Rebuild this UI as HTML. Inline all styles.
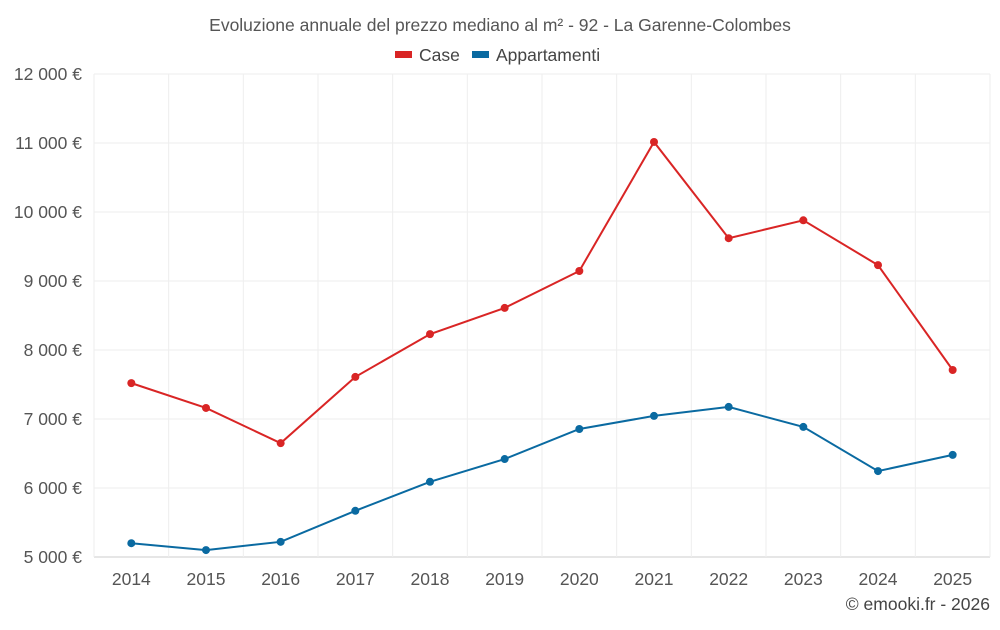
<!DOCTYPE html>
<html><head><meta charset="utf-8"><style>
body{margin:0;background:#fff;font-family:"Liberation Sans",sans-serif}
svg text{font-family:"Liberation Sans",sans-serif}
</style></head><body>
<svg id="chart" width="1000" height="625" viewBox="0 0 1000 625">
<text x="500" y="31" text-anchor="middle" font-size="17.5" fill="#555">Evoluzione annuale del prezzo mediano al m² - 92 - La Garenne-Colombes</text>
<g>
<g><rect x="395" y="51" width="17" height="7" fill="#d92525"/><text x="419" y="61" font-size="17.5" fill="#444">Case</text></g>
<g><rect x="472" y="51" width="17" height="7" fill="#0a6aa1"/><text x="496" y="61" font-size="17.5" fill="#444">Appartamenti</text></g>
</g>
<g id="grid"></g>
<g id="axes"></g>
<g id="series"></g>
<text x="990" y="610" text-anchor="end" font-size="17.5" fill="#444">© emooki.fr - 2026</text>
</svg>
<script>
const years=["2014","2015","2016","2017","2018","2019","2020","2021","2022","2023","2024","2025"];
const caseValues=[7520,7160,6650,7610,8230,8610,9145,11015,9620,9880,9230,7710];
const appValues=[5200,5100,5220,5670,6090,6420,6855,7045,7175,6885,6245,6480];
const yTicks=[5000,6000,7000,8000,9000,10000,11000,12000];
const yTickLabels=["5 000 €","6 000 €","7 000 €","8 000 €","9 000 €","10 000 €","11 000 €","12 000 €"];
const L=94,R=990,T=74,B=557,ymin=5000,ymax=12000;
const band=(R-L)/years.length;
const x=i=>L+band*(i+0.5);
const y=v=>B-(v-ymin)/(ymax-ymin)*(B-T);
const NS="http://www.w3.org/2000/svg";
function mk(tag,attrs,parent){const e=document.createElementNS(NS,tag);for(const k in attrs)e.setAttribute(k,attrs[k]);parent.appendChild(e);return e;}
const grid=document.getElementById('grid'),axes=document.getElementById('axes'),series=document.getElementById('series');
yTicks.forEach((t,i)=>{
 const ln=mk('line',{x1:L,x2:R,y1:y(t),y2:y(t),stroke:i==0?'#ccc':'#eee','stroke-width':1},grid);
 
 
 const tx=mk('text',{x:82,y:y(t)+6,'text-anchor':'end','font-size':17.5,fill:'#555'},axes);
 tx.textContent=yTickLabels[i];
 
 
});
for(let i=0;i<=years.length;i++){
 const ln=mk('line',{x1:L+band*i,x2:L+band*i,y1:T,y2:B,stroke:'#eee','stroke-width':1},grid);
 
 
}
years.forEach((yr,i)=>{
 const tx=mk('text',{x:x(i),y:585,'text-anchor':'middle','font-size':17.5,fill:'#555'},axes);
 tx.textContent=yr;
 
 
});
function draw(vals,color,name){
 const p=mk('polyline',{points:vals.map((v,i)=>x(i)+','+y(v)).join(' '),fill:'none',stroke:color,'stroke-width':2},series);
 
 
 vals.forEach((v,i)=>{
  const c=mk('circle',{cx:x(i),cy:y(v),r:4,fill:color},series);
  
  
 });
}
draw(caseValues,'#d92525','case');
draw(appValues,'#0a6aa1','appartamenti');
</script>
</body></html>
